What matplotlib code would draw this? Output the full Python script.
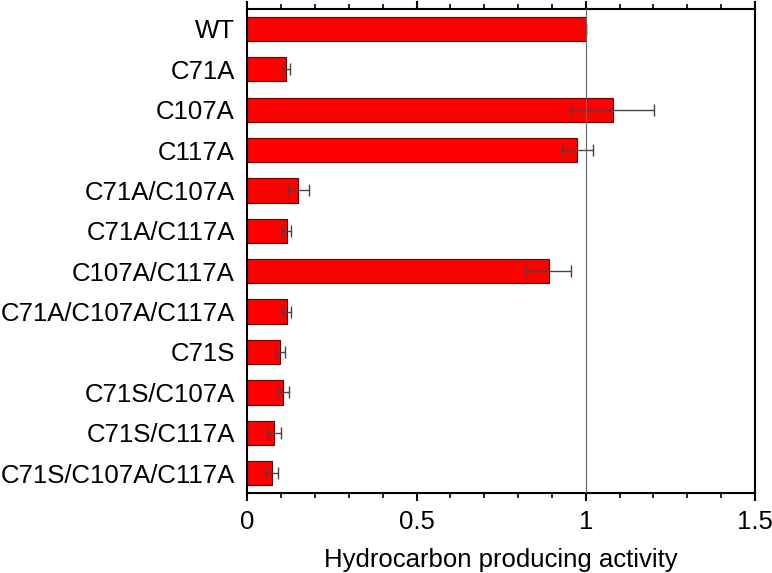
"""Horizontal bar chart of hydrocarbon producing activity for each mutant."""
import matplotlib
matplotlib.use("Agg")
from matplotlib import pyplot as plt
from matplotlib.ticker import MultipleLocator, FuncFormatter

# data
mutants = ["WT", "C71A", "C107A", "C117A", "C71A/C107A", "C71A/C117A",
           "C107A/C117A", "C71A/C107A/C117A", "C71S", "C71S/C107A",
           "C71S/C117A", "C71S/C107A/C117A"]
activity = [1.0, 0.115, 1.079, 0.975, 0.151, 0.116,
            0.890, 0.118, 0.098, 0.107, 0.080, 0.073]
errors = [0.0, 0.010, 0.124, 0.045, 0.032, 0.012,
          0.067, 0.011, 0.013, 0.015, 0.020, 0.019]

plt.rcParams['font.family'] = ['Liberation Sans', 'DejaVu Sans']

fig = plt.figure(figsize=(7.72, 5.73), dpi=100)
ax = fig.add_axes([0.3203, 0.139, 0.978 - 0.3203, 0.9848 - 0.139])

positions = list(range(len(mutants)))
ax.barh(positions, activity, height=0.6, color="#ff0000",
        edgecolor="#6a0000", linewidth=0.8, zorder=2)
ax.errorbar(activity, positions, xerr=errors, fmt="none", ecolor="#444444",
            elinewidth=1.0, capsize=4, capthick=1.0, zorder=3)
ax.axvline(1.0, color="#666666", linewidth=0.8, zorder=4)

ax.set_xlim(0, 1.5)
ax.set_ylim(len(mutants) - 0.5, -0.5)
ax.set_yticks(positions)
ax.set_yticklabels(mutants, fontsize=18.5)
ax.tick_params(axis="y", length=0, pad=9)

ax.xaxis.set_major_locator(MultipleLocator(0.5))
ax.xaxis.set_minor_locator(MultipleLocator(0.1))
ax.xaxis.set_major_formatter(FuncFormatter(lambda v, pos: "%g" % round(v, 2)))
ax.tick_params(axis="x", which="major", direction="out", length=6, width=1.5,
               top=True, labeltop=False, labelsize=18.5, pad=6)
ax.tick_params(axis="x", which="minor", direction="out", length=3.5, width=1.2,
               top=True)
ax.set_xlabel("Hydrocarbon producing activity", fontsize=18.5, labelpad=10)

for spine in ax.spines.values():
    spine.set_linewidth(1.5)

fig.savefig("out.png", dpi=100)
